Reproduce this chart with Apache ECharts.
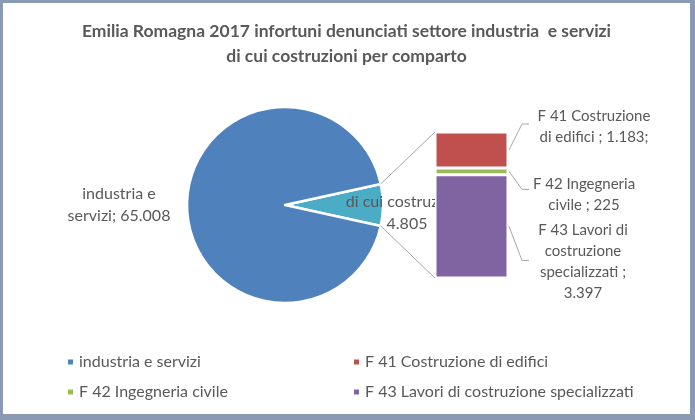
<!DOCTYPE html>
<html>
<head>
<meta charset="utf-8">
<script src="https://cdn.jsdelivr.net/npm/echarts@6/dist/echarts.min.js"></script>
<style>
    html, body { margin: 0; padding: 0; background: #8a9ab5; }
    #main { position: absolute; left: 3px; top: 3px; width: 687px; height: 411px; background: #fff; }
</style>
</head>
<body>
<div id="main"></div>
<script>
// pie: whole region
var pieNames = ['di cui costruzioni', 'industria e servizi'];
var pieValues = [4805, 65008];
var pieLabelText = ['di cui costruzioni;\n{v}', 'industria e\nservizi; {v}'];

// bar: breakdown of "costruzioni" per comparto
var barNames = ['F 41 Costruzione di edifici', 'F 42 Ingegneria civile', 'F 43 Lavori di costruzione specializzati'];
var barValues = [1183, 225, 3397];
var barLabelText = ['F 41 Costruzione\ndi edifici ; {v};', 'F 42 Ingegneria\ncivile ; {v}', 'F 43 Lavori di\ncostruzione\nspecializzati ;\n{v}'];
var barColors = ['#C0504D', '#9BBB59', '#8064A2'];

var FONT = 'Lato';
var TXT = '#595959';
var GUIDE = '#a6a6a6';

function fmt(v) {
    return String(v).replace(/\B(?=(\d{3})+(?!\d))/g, '.');
}

var pieTotal = pieValues[0] + pieValues[1];
var halfAngle = 180 * pieValues[0] / pieTotal;
var pieCenter = [282, 202];
var pieRadius = 98;

// label offsets (pie ones get applied twice by the layout, so halved)
var pieLabelShift = [[35, 4], [-57, 0]];
var barLabelShift = [[86, -23], [76, 23], [75, 35]];
// leader line elbow, y offset from the bar middle
var barGuideElbow = [-26, 18, 34];

var series = [{
    name: 'pie',
    type: 'pie',
    z: 2,
    center: pieCenter,
    radius: pieRadius,
    startAngle: halfAngle,
    clockwise: true,
    data: pieNames.map(function (n, i) {
        return {name: n, value: pieValues[i]};
    }),
    itemStyle: {borderColor: '#fff', borderWidth: 2.5},
    label: {
        position: 'inside',
        color: TXT,
        fontFamily: FONT,
        fontSize: 16,
        lineHeight: 22,
        formatter: function (p) {
            return pieLabelText[p.dataIndex].replace('{v}', fmt(p.value));
        }
    },
    labelLayout: function (p) {
        var s = pieLabelShift[p.dataIndex];
        return {dx: s[0], dy: s[1]};
    },
    emphasis: {disabled: true}
}];

// stacked from bottom: F43, F42, F41
[2, 1, 0].forEach(function (i) {
    series.push({
        name: barNames[i],
        type: 'bar',
        stack: 'c',
        z: 10,
        barWidth: '100%',
        data: [barValues[i]],
        itemStyle: {color: barColors[i], borderColor: '#fff', borderWidth: 1.5},
        label: {
            show: true,
            position: 'right',
            color: TXT,
            fontFamily: FONT,
            fontSize: 15,
            lineHeight: 21,
            align: 'center',
            formatter: function (p) {
                return barLabelText[i].replace('{v}', fmt(p.value));
            }
        },
        labelLayout: function (p) {
            var r = p.rect;
            return {
                x: r.x + r.width + barLabelShift[i][0],
                y: r.y + r.height / 2 + barLabelShift[i][1],
                align: 'center',
                verticalAlign: 'middle'
            };
        },
        emphasis: {disabled: true}
    });
});

var legendText = {color: TXT, fontFamily: FONT, fontSize: 16};

var option = {
    animation: false,
    color: ['#4BACC6', '#4F81BD'],
    title: {
        text: 'Emilia Romagna 2017 infortuni denunciati settore industria  e servizi\ndi cui costruzioni per comparto',
        left: 'center',
        top: 11,
        textStyle: {color: TXT, fontFamily: FONT, fontSize: 17.5, fontWeight: 'bold', lineHeight: 25}
    },
    legend: [{
        data: ['industria e servizi', barNames[1]],
        orient: 'vertical',
        left: 58,
        top: 346,
        itemGap: 14,
        itemWidth: 7,
        itemHeight: 7,
        icon: 'rect',
        selectedMode: false,
        textStyle: legendText
    }, {
        data: [barNames[0], barNames[2]],
        orient: 'vertical',
        left: 344,
        top: 346,
        itemGap: 14,
        itemWidth: 7,
        itemHeight: 7,
        icon: 'rect',
        selectedMode: false,
        textStyle: legendText
    }],
    grid: {left: 432, top: 129, width: 73, height: 146},
    xAxis: {type: 'category', data: ['costruzioni'], show: false},
    yAxis: {type: 'value', min: 0, max: pieValues[0], show: false},
    series: series
};

var myChart = echarts.init(document.getElementById('main'));
myChart.setOption(option);

// connector lines from the pie slice to the bar, and leader lines to the bar labels
var model = myChart.getModel();
var lays = barNames.map(function (n) {
    var l = model.getSeriesByName(n)[0].getData().getItemLayout(0);
    return {
        x: l.x, w: l.width,
        top: Math.min(l.y, l.y + l.height),
        bot: Math.max(l.y, l.y + l.height)
    };
});
var h = halfAngle * Math.PI / 180;
var ex = pieCenter[0] + pieRadius * Math.cos(h);
var lineStyle = {stroke: GUIDE, lineWidth: 1};
var graphics = [
    {type: 'line', shape: {x1: ex, y1: pieCenter[1] - pieRadius * Math.sin(h), x2: lays[0].x, y2: lays[0].top}, style: lineStyle, z: 5},
    {type: 'line', shape: {x1: ex, y1: pieCenter[1] + pieRadius * Math.sin(h), x2: lays[2].x, y2: lays[2].bot}, style: lineStyle, z: 5}
];
lays.forEach(function (l, i) {
    var right = l.x + l.w;
    var mid = (l.top + l.bot) / 2;
    var ey = mid + barGuideElbow[i];
    graphics.push({
        type: 'polyline',
        shape: {points: [[right + 1, mid], [right + 14, ey], [right + 21, ey]]},
        style: {stroke: GUIDE, lineWidth: 1, fill: null},
        z: 5
    });
});
myChart.setOption({graphic: graphics});
</script>
</body>
</html>
